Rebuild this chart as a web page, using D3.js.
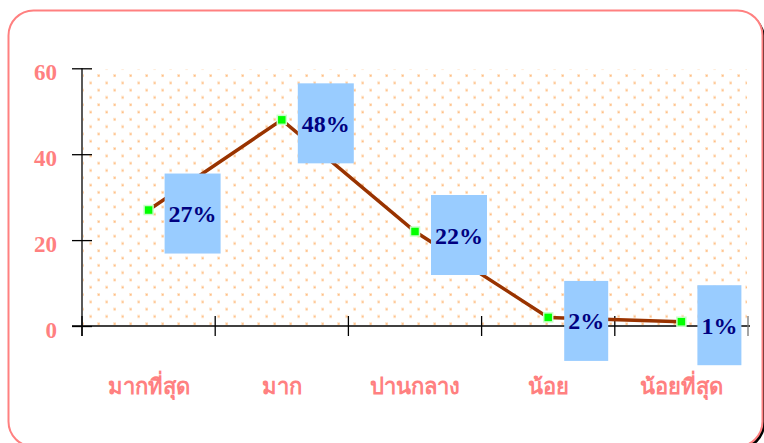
<!DOCTYPE html>
<html>
<head>
<meta charset="utf-8">
<script src="https://cdn.jsdelivr.net/npm/d3@7"></script>
<style>
  body { margin: 0; background: #fff; }
  svg { display: block; }
</style>
</head>
<body>
<div id="chart"></div>
<script>
// chart data
const categories = ["มากที่สุด", "มาก", "ปานกลาง", "น้อย", "น้อยที่สุด"];
const values = [27, 48, 22, 2, 1];
const valueLabels = ["27%", "48%", "22%", "2%", "1%"];
const yTicks = [0, 20, 40, 60];

const width = 764, height = 443;
const serif = "'Liberation Serif', 'Times New Roman', serif";
const salmon = "#ff8080";

const svg = d3.select("#chart").append("svg")
    .attr("width", width)
    .attr("height", height);

// dotted background pattern
const defs = svg.append("defs");
const pat = defs.append("pattern")
    .attr("id", "dots")
    .attr("patternUnits", "userSpaceOnUse")
    .attr("width", 16)
    .attr("height", 14.6);
[[2, 2], [10, 9.3]].forEach(function(p) {
    pat.append("rect").attr("x", p[0] - 1).attr("y", p[1] - 1)
        .attr("width", 3).attr("height", 3).attr("fill", "#ffe6cc");
    pat.append("rect").attr("x", p[0]).attr("y", p[1])
        .attr("width", 1.5).attr("height", 1.5).attr("fill", "#ffbb80");
});

// frame with shadow
svg.append("rect")
    .attr("x", 11).attr("y", 13)
    .attr("width", 754).attr("height", 436)
    .attr("rx", 25)
    .attr("fill", "#000");
svg.append("rect")
    .attr("x", 8.5).attr("y", 10.5)
    .attr("width", 754).attr("height", 436)
    .attr("rx", 25)
    .attr("fill", "#fff")
    .attr("stroke", salmon)
    .attr("stroke-width", 2);

// scales
const x = d3.scaleBand().domain(categories).range([82, 748]);
const y = d3.scaleLinear().domain([0, 60]).range([326, 68.3]);
const cx = d => x(d) + x.bandwidth() / 2;

// plot area
svg.append("rect")
    .attr("x", 83).attr("y", y(60) + 1)
    .attr("width", 664).attr("height", y(0) - y(60) - 1)
    .attr("fill", "url(#dots)");

// y axis
const gy = svg.append("g")
    .attr("transform", "translate(92,0)")
    .call(d3.axisLeft(y).tickValues(yTicks).tickSize(20).tickPadding(15))
    .call(g => g.select(".domain").remove());
gy.selectAll(".tick line").attr("stroke", "#000").attr("stroke-width", 1.3);
gy.selectAll(".tick text")
    .attr("fill", salmon)
    .attr("font-family", serif)
    .attr("font-weight", "bold")
    .attr("font-size", 23)
    .attr("dy", "0.5em");
svg.append("line")
    .attr("x1", 82).attr("x2", 82)
    .attr("y1", y(60)).attr("y2", y(0) + 10)
    .attr("stroke", "#000").attr("stroke-width", 1.3);

// x axis
svg.append("line")
    .attr("x1", 72).attr("x2", 750)
    .attr("y1", y(0)).attr("y2", y(0))
    .attr("stroke", "#000").attr("stroke-width", 1.3);
const bounds = categories.map(c => x(c)).concat([x.range()[1]]);
svg.selectAll(".xtick")
    .data(bounds)
    .enter().append("line")
    .attr("class", "xtick")
    .attr("x1", d => d).attr("x2", d => d)
    .attr("y1", y(0) - 10).attr("y2", y(0) + 10)
    .attr("stroke", (d, i) => i === bounds.length - 1 ? "#777" : "#000")
    .attr("stroke-width", 1.3);

svg.selectAll(".xlabel")
    .data(categories)
    .enter().append("text")
    .attr("class", "xlabel")
    .attr("x", d => cx(d))
    .attr("y", 394)
    .attr("text-anchor", "middle")
    .attr("fill", salmon)
    .attr("font-family", serif)
    .attr("font-weight", "bold")
    .attr("font-size", 22)
    .text(d => d);

// line
const line = d3.line()
    .x((d, i) => cx(categories[i]))
    .y(d => y(d));
svg.append("path")
    .datum(values)
    .attr("d", line)
    .attr("fill", "none")
    .attr("stroke", "#993300")
    .attr("stroke-width", 3.5);

// markers
svg.selectAll(".marker")
    .data(values)
    .enter().append("rect")
    .attr("class", "marker")
    .attr("x", (d, i) => cx(categories[i]) - 4.5)
    .attr("y", d => y(d) - 4.5)
    .attr("width", 9).attr("height", 9)
    .attr("fill", "#00ff00")
    .attr("stroke", "#c8ffc8")
    .attr("stroke-width", 1.5);

// value label boxes
const labels = svg.selectAll(".vlabel")
    .data(values)
    .enter().append("g")
    .attr("class", "vlabel");

labels.append("rect").attr("fill", "#99ccff");
labels.append("text")
    .attr("fill", "#000080")
    .attr("font-family", serif)
    .attr("font-weight", "bold")
    .attr("font-size", 24)
    .attr("text-anchor", "middle")
    .text((d, i) => valueLabels[i]);

labels.each(function(d, i) {
    const g = d3.select(this);
    const tw = g.select("text").node().getComputedTextLength();
    const bw = Math.round(tw + 8);
    const left = cx(categories[i]) + 16;
    const mid = y(d) + 3.5;
    g.select("rect")
        .attr("x", left).attr("y", mid - 40)
        .attr("width", bw).attr("height", 80);
    g.select("text")
        .attr("x", left + bw / 2)
        .attr("y", mid + 8.5);
});
</script>
</body>
</html>
